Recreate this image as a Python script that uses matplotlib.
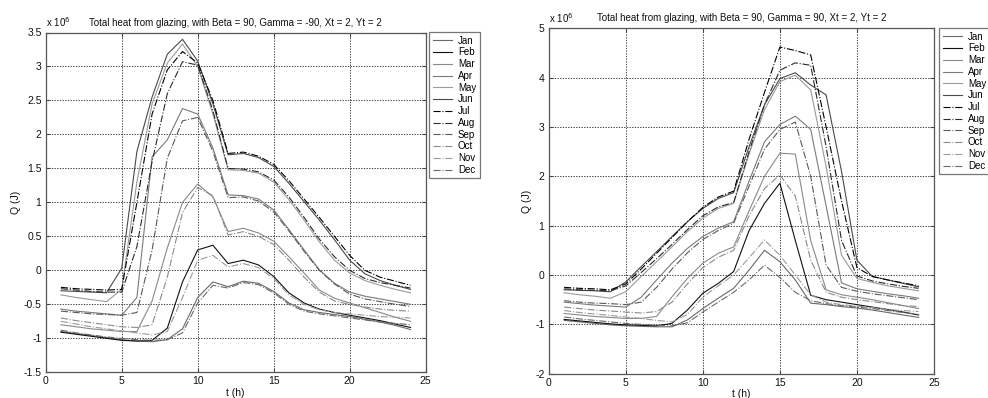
import matplotlib
matplotlib.use("Agg")
import matplotlib.pyplot as plt
from matplotlib.ticker import FuncFormatter

plt.rcParams['font.family'] = ['Liberation Sans', 'DejaVu Sans']

hours = list(range(1, 25))
months = ['Jan', 'Feb', 'Mar', 'Apr', 'May', 'Jun',
          'Jul', 'Aug', 'Sep', 'Oct', 'Nov', 'Dec']

# Left chart: Beta = 90, Gamma = -90  (values in 10^6 J)
left_Jan = [-0.90, -0.93, -0.96, -0.99, -1.02, -1.04, -1.05, -1.02, -0.86, -0.40, -0.17, -0.24,
            -0.16, -0.19, -0.31, -0.48, -0.58, -0.62, -0.65, -0.68, -0.72, -0.76, -0.81, -0.87]
left_Feb = [-0.91, -0.94, -0.97, -1.00, -1.03, -1.04, -1.03, -0.85, -0.17, 0.30, 0.37, 0.10,
            0.15, 0.08, -0.09, -0.33, -0.48, -0.57, -0.62, -0.66, -0.70, -0.74, -0.79, -0.84]
left_Mar = [-0.80, -0.83, -0.86, -0.88, -0.90, -0.90, -0.45, 0.33, 1.00, 1.27, 1.08, 0.57,
            0.62, 0.55, 0.43, 0.20, -0.04, -0.29, -0.41, -0.48, -0.55, -0.62, -0.69, -0.75]
left_Apr = [-0.57, -0.60, -0.62, -0.64, -0.66, -0.40, 1.67, 1.92, 2.38, 2.30, 1.80, 1.11,
            1.10, 1.05, 0.89, 0.60, 0.30, 0.01, -0.19, -0.32, -0.38, -0.42, -0.46, -0.50]
left_May = [-0.36, -0.40, -0.43, -0.46, -0.28, 1.30, 2.45, 3.05, 3.33, 3.00, 2.30, 1.48,
            1.47, 1.43, 1.30, 1.04, 0.74, 0.42, 0.15, -0.04, -0.15, -0.22, -0.28, -0.33]
left_Jun = [-0.30, -0.31, -0.32, -0.33, 0.03, 1.75, 2.55, 3.18, 3.40, 3.08, 2.45, 1.70,
            1.72, 1.66, 1.53, 1.28, 1.01, 0.74, 0.45, 0.15, -0.05, -0.15, -0.22, -0.28]
left_Jul = [-0.25, -0.27, -0.28, -0.29, -0.28, 1.00, 2.30, 2.95, 3.22, 3.05, 2.50, 1.72,
            1.74, 1.68, 1.56, 1.32, 1.05, 0.78, 0.50, 0.22, 0.00, -0.10, -0.16, -0.22]
left_Aug = [-0.27, -0.29, -0.31, -0.32, -0.32, 0.35, 1.60, 2.60, 3.07, 3.02, 2.35, 1.50,
            1.49, 1.45, 1.33, 1.08, 0.78, 0.46, 0.20, 0.00, -0.12, -0.18, -0.22, -0.26]
left_Sep = [-0.60, -0.62, -0.64, -0.65, -0.66, -0.62, 0.30, 1.65, 2.20, 2.25, 1.75, 1.07,
            1.08, 1.02, 0.86, 0.58, 0.28, 0.00, -0.20, -0.35, -0.42, -0.46, -0.50, -0.53]
left_Oct = [-0.70, -0.74, -0.77, -0.80, -0.83, -0.84, -0.80, -0.10, 0.85, 1.22, 1.10, 0.52,
            0.57, 0.50, 0.38, 0.15, -0.10, -0.32, -0.45, -0.50, -0.54, -0.57, -0.59, -0.60]
left_Nov = [-0.75, -0.79, -0.83, -0.86, -0.89, -0.92, -0.95, -0.90, -0.40, 0.15, 0.22, 0.05,
            0.10, 0.04, -0.12, -0.36, -0.50, -0.58, -0.62, -0.64, -0.66, -0.68, -0.69, -0.70]
left_Dec = [-0.88, -0.92, -0.95, -0.98, -1.00, -1.02, -1.03, -1.02, -0.92, -0.48, -0.22, -0.26,
            -0.18, -0.21, -0.33, -0.50, -0.60, -0.64, -0.67, -0.70, -0.73, -0.76, -0.78, -0.80]

# Right chart: Beta = 90, Gamma = 90  (values in 10^6 J)
right_Jan = [-0.92, -0.95, -0.98, -1.01, -1.03, -1.04, -1.05, -1.05, -0.91, -0.68, -0.47, -0.27,
             0.10, 0.50, 0.27, -0.10, -0.57, -0.60, -0.64, -0.67, -0.71, -0.76, -0.81, -0.86]
right_Feb = [-0.90, -0.93, -0.96, -0.99, -1.01, -1.02, -1.03, -0.98, -0.71, -0.37, -0.17, 0.07,
             0.90, 1.45, 1.86, 0.70, -0.41, -0.50, -0.55, -0.60, -0.65, -0.70, -0.75, -0.81]
right_Mar = [-0.78, -0.81, -0.84, -0.86, -0.88, -0.88, -0.84, -0.44, -0.07, 0.24, 0.44, 0.57,
             1.30, 2.00, 2.47, 2.45, 0.70, -0.30, -0.40, -0.45, -0.50, -0.56, -0.62, -0.68]
right_Apr = [-0.55, -0.58, -0.61, -0.63, -0.65, -0.45, -0.10, 0.24, 0.54, 0.78, 0.95, 1.08,
             1.90, 2.70, 3.05, 3.22, 2.95, 1.40, -0.16, -0.28, -0.33, -0.38, -0.42, -0.47]
right_May = [-0.36, -0.40, -0.43, -0.47, -0.34, -0.03, 0.27, 0.57, 0.88, 1.15, 1.35, 1.45,
             2.45, 3.35, 3.92, 4.05, 3.75, 2.20, 0.40, -0.07, -0.15, -0.22, -0.27, -0.32]
right_Jun = [-0.30, -0.31, -0.32, -0.34, -0.14, 0.17, 0.47, 0.78, 1.08, 1.35, 1.55, 1.67,
             2.60, 3.45, 3.98, 4.10, 3.85, 3.65, 2.10, 0.30, -0.03, -0.10, -0.17, -0.24]
right_Jul = [-0.25, -0.27, -0.28, -0.30, -0.18, 0.12, 0.44, 0.76, 1.08, 1.37, 1.58, 1.70,
             2.75, 3.70, 4.62, 4.55, 4.46, 3.00, 1.50, 0.15, -0.03, -0.10, -0.16, -0.22]
right_Aug = [-0.28, -0.30, -0.31, -0.32, -0.22, 0.05, 0.33, 0.62, 0.92, 1.20, 1.38, 1.47,
             2.50, 3.45, 4.15, 4.30, 4.25, 2.60, 0.70, -0.02, -0.12, -0.18, -0.23, -0.27]
right_Sep = [-0.52, -0.55, -0.57, -0.58, -0.60, -0.55, -0.25, 0.12, 0.45, 0.72, 0.90, 1.05,
             1.80, 2.55, 2.95, 3.10, 2.00, 0.20, -0.25, -0.33, -0.38, -0.42, -0.46, -0.50]
right_Oct = [-0.65, -0.68, -0.71, -0.73, -0.75, -0.77, -0.74, -0.55, -0.18, 0.15, 0.36, 0.50,
             1.20, 1.75, 2.03, 1.60, 0.30, -0.35, -0.45, -0.50, -0.54, -0.58, -0.62, -0.64]
right_Nov = [-0.72, -0.76, -0.79, -0.82, -0.85, -0.88, -0.92, -0.95, -0.80, -0.45, -0.22, 0.00,
             0.35, 0.71, 0.40, 0.00, -0.40, -0.55, -0.60, -0.63, -0.66, -0.70, -0.72, -0.74]
right_Dec = [-0.85, -0.89, -0.92, -0.95, -0.98, -1.00, -1.02, -1.03, -0.97, -0.75, -0.55, -0.35,
             -0.10, 0.20, -0.05, -0.35, -0.52, -0.58, -0.62, -0.65, -0.68, -0.72, -0.76, -0.80]

left_series = [left_Jan, left_Feb, left_Mar, left_Apr, left_May, left_Jun,
               left_Jul, left_Aug, left_Sep, left_Oct, left_Nov, left_Dec]
right_series = [right_Jan, right_Feb, right_Mar, right_Apr, right_May, right_Jun,
                right_Jul, right_Aug, right_Sep, right_Oct, right_Nov, right_Dec]

left_title = 'Total heat from glazing, with Beta = 90, Gamma = -90, Xt = 2, Yt = 2'
right_title = 'Total heat from glazing, with Beta = 90, Gamma = 90, Xt = 2, Yt = 2'

colors = ['#6a6a6a', '#111111', '#8a8a8a', '#7a7a7a', '#9a9a9a', '#4a4a4a',
          '#000000', '#2a2a2a', '#5a5a5a', '#8a8a8a', '#9a9a9a', '#6a6a6a']
styles = ['-'] * 6 + ['-.'] * 6

W, H = 988, 398
fig = plt.figure(figsize=(W / 100, H / 100), dpi=100)

def px_axes(x0, y0, x1, y1):
    return fig.add_axes([x0 / W, 1 - y1 / H, (x1 - x0) / W, (y1 - y0) / H])

panels = [
    dict(box=(45.7, 32.5, 425.7, 372.3), series=left_series, title=left_title,
         ylim=(-1.5, 3.5), yticks=[-1.5, -1, -0.5, 0, 0.5, 1, 1.5, 2, 2.5, 3, 3.5],
         leg=(429.3, 32.3)),
    dict(box=(548.7, 28.3, 934.0, 373.7), series=right_series, title=right_title,
         ylim=(-2, 5), yticks=[-2, -1, 0, 1, 2, 3, 4, 5],
         leg=(939.3, 28.3)),
]

txt = '#111111'
for p in panels:
    ax = px_axes(*p['box'])
    for m, vals, c, ls in zip(months, p['series'], colors, styles):
        ax.plot(hours, vals, color=c, linestyle=ls, linewidth=0.8, label=m)
    ax.set_xlim(0, 25)
    ax.set_ylim(*p['ylim'])
    ax.set_xticks([0, 5, 10, 15, 20, 25])
    ax.set_yticks(p['yticks'])
    ax.yaxis.set_major_formatter(FuncFormatter(lambda v, pos: '%g' % v))
    ax.grid(True, color='#222222', linestyle=(0, (1.6, 1.6)), linewidth=0.6)
    ax.tick_params(direction='in', length=3, labelsize=7.5, colors='#444444',
                   labelcolor=txt, top=True, right=True, pad=3)
    for s in ax.spines.values():
        s.set_color('#555555')
        s.set_linewidth(0.9)
    ax.set_title(p['title'], fontsize=7, color=txt, pad=5)
    ax.set_xlabel('t (h)', fontsize=7.5, color=txt, labelpad=1)
    ax.set_ylabel('Q (J)', fontsize=7.5, color=txt, labelpad=2)
    ax.text(0.0, 1.01, r'x 10$^6$', transform=ax.transAxes, fontsize=7,
            color=txt, ha='left', va='bottom')
    lx, ly = p['leg']
    leg = ax.legend(loc='upper left', bbox_to_anchor=(lx / W, 1 - ly / H),
                    bbox_transform=fig.transFigure, borderaxespad=0,
                    fontsize=7, frameon=True, fancybox=False, handlelength=2.0,
                    handletextpad=0.6, labelspacing=0.18, borderpad=0.35)
    leg.get_frame().set_edgecolor('#555555')
    leg.get_frame().set_linewidth(0.9)

fig.savefig('out.png', dpi=100)
